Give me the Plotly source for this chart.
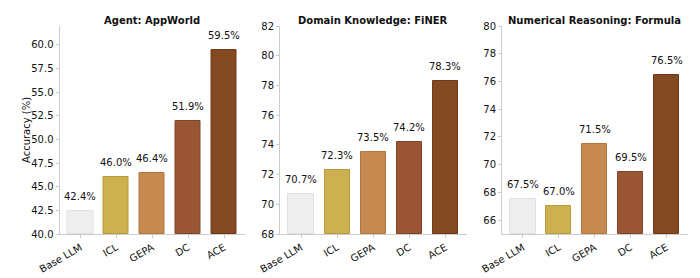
import plotly.graph_objects as go

methods = ["Base LLM", "ICL", "GEPA", "DC", "ACE"]
titles = ["Agent: AppWorld", "Domain Knowledge: FiNER", "Numerical Reasoning: Formula"]
appworld = [42.4, 46.0, 46.4, 51.9, 59.5]
finer = [70.7, 72.3, 73.5, 74.2, 78.3]
formula = [67.5, 67.0, 71.5, 69.5, 76.5]
series = [appworld, finer, formula]
colors = ["#eeeeee", "#cdb04f", "#c68a50", "#9a5535", "#834a22"]
edges = ["#e0e0e0", "#b89a3a", "#b07640", "#84442a", "#6e3a18"]

y_ranges = [[40, 62], [68, 82], [65, 80]]
y_ticks = [[40 + 2.5 * i for i in range(9)], list(range(68, 83, 2)), list(range(66, 81, 2))]
y_fmt = [".1f", "d", "d"]

W, H = 700, 278
x_px = [(59.5, 245), (280, 466.5), (502, 687.5)]
y_dom = [(H - 234) / H, (H - 26) / H]

font = "DejaVu Sans, Arial, sans-serif"
fig = go.Figure()
layout = {}
annotations = []
for i, vals in enumerate(series):
    n = "" if i == 0 else str(i + 1)
    xa, ya = "x" + n, "y" + n
    fig.add_trace(go.Bar(
        x=list(range(len(methods))), y=[v - y_ranges[i][0] for v in vals],
        base=y_ranges[i][0], width=0.7,
        marker=dict(color=colors, line=dict(color=edges, width=1)),
        xaxis=xa, yaxis=ya, showlegend=False, hoverinfo="skip"))
    for j, v in enumerate(vals):
        annotations.append(dict(x=j, y=v, xref=xa, yref=ya, text=f"{v:.1f}%",
                                showarrow=False, yanchor="bottom", yshift=7,
                                font=dict(size=10, color="#111", family=font)))
    x0, x1 = x_px[i]
    annotations.append(dict(x=(x0 + x1) / 2 / W, y=(H - 20) / H, xref="paper", yref="paper",
                            text=f"<b>{titles[i]}</b>", showarrow=False,
                            xanchor="center", yanchor="middle",
                            font=dict(size=10, color="#111", family=font)))
    layout["xaxis" + n] = dict(
        domain=[x0 / W, x1 / W], range=[-0.585, 4.585], anchor=ya, automargin=False,
        tickvals=list(range(len(methods))), ticktext=methods, tickangle=-30,
        showline=True, linecolor="#cccccc", linewidth=1, ticks="outside",
        ticklen=3, tickcolor="#cccccc", showgrid=False, zeroline=False,
        tickfont=dict(size=10, color="#111", family=font), fixedrange=True)
    layout["yaxis" + n] = dict(
        domain=list(y_dom), range=y_ranges[i], anchor=xa, automargin=False,
        tickvals=y_ticks[i], tickformat=y_fmt[i],
        showline=True, linecolor="#cccccc", linewidth=1, ticks="outside",
        ticklen=3, tickcolor="#cccccc", showgrid=False, zeroline=False,
        tickfont=dict(size=10, color="#111", family=font), fixedrange=True)

annotations.append(dict(x=26 / W, y=(H - 130) / H, xref="paper", yref="paper",
                        text="Accuracy (%)", textangle=-90, showarrow=False,
                        xanchor="center", yanchor="middle",
                        font=dict(size=10, color="#111", family=font)))

fig.update_layout(width=W, height=H, margin=dict(l=0, r=0, t=0, b=0),
                  plot_bgcolor="white", paper_bgcolor="white",
                  annotations=annotations, bargap=0, **layout)
fig.write_html("out.html")
